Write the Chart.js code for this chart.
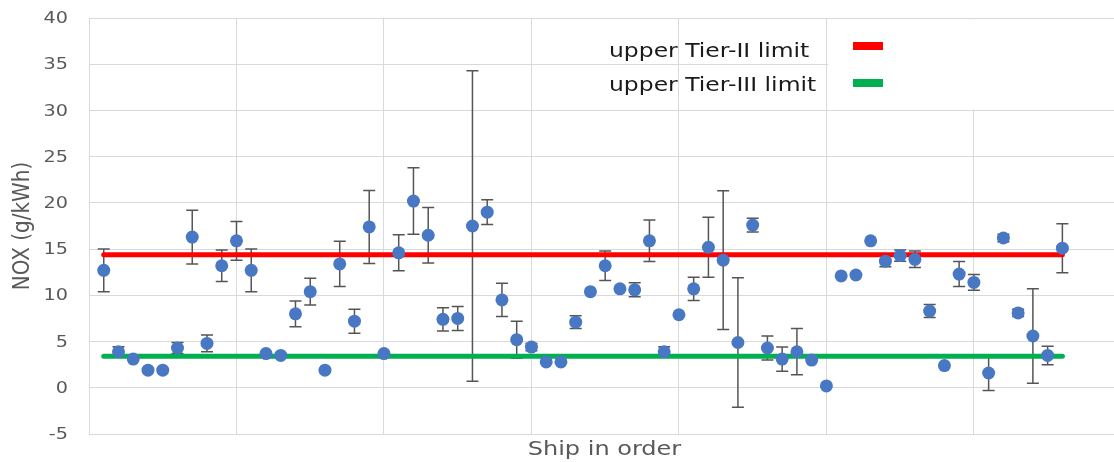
<!DOCTYPE html>
<html><head><meta charset="utf-8">
<script src="https://cdn.jsdelivr.net/npm/chart.js@4"></script>
<style>html,body{margin:0;padding:0;background:#fff}canvas{display:block}</style>
</head><body>
<canvas id="c" width="1114" height="462"></canvas>
<script>
// ---- data ----
const ships = [1,2,3,4,5,6,7,8,9,10,11,12,13,14,15,16,17,18,19,20,21,22,23,24,25,26,27,28,29,30,31,32,33,34,35,36,37,38,39,40,41,42,43,44,45,46,47,48,49,50,51,52,53,54,55,56,57,58,59,60,61,62,63,64,65,66];
const nox = [12.7,3.9,3.1,1.9,1.9,4.3,16.3,4.8,13.2,15.9,
             12.7,3.7,3.5,8.0,10.4,1.9,13.4,7.2,17.4,3.7,
             14.6,20.2,16.5,7.4,7.5,17.5,19.0,9.5,5.2,4.4,
             2.8,2.8,7.1,10.4,13.2,10.7,10.6,15.9,3.9,7.9,
             10.7,15.2,13.8,4.9,17.6,4.3,3.1,3.9,3.0,0.2,
             12.1,12.2,15.9,13.7,14.3,13.9,8.3,2.4,12.3,11.4,
             1.6,16.2,8.1,5.6,3.5,15.1];
const noxErr = [2.3,0.55,0,0,0,0.6,2.9,0.9,1.7,2.1,
                2.3,0,0,1.4,1.45,0,2.45,1.3,3.95,0,
                1.95,3.6,3.0,1.25,1.3,16.8,1.35,1.8,2.0,0.4,
                0,0,0.7,0,1.6,0,0.75,2.25,0.55,0,
                1.25,3.25,7.5,7.0,0.75,1.3,1.3,2.5,0,0,
                0,0,0,0.6,0.6,0.9,0.7,0,1.35,0.85,
                1.9,0.4,0.4,5.1,1.0,2.65];
const tierIILimit = 14.4;
const tierIIILimit = 3.4;
const yTicks = [-5,0,5,10,15,20,25,30,35,40];
const xGridStep = 10;
const legendLabels = ['upper Tier-II limit','upper Tier-III limit'];
const axisTitles = {x:'Ship in order', y:'NOX (g/kWh)'};

const RED = '#ff0000', GREEN = '#00b050', BLUE = '#4878c4', GRID = '#d9d9d9', TXT = '#595959';

const custom = {
  id: 'custom',
  beforeDatasetsDraw(chart) {
    const {ctx, chartArea: a, scales: {x, y}} = chart;
    ctx.save();
    // legend background box (covers gridlines like the original)
    ctx.fillStyle = '#fff';
    ctx.fillRect(828, a.top + 1.5, a.right - 828, y.getPixelForValue(30) - a.top - 2.5);
    // error bars
    ctx.strokeStyle = '#555555';
    ctx.lineWidth = 1.5;
    ships.forEach((s, i) => {
      const e = noxErr[i];
      if (!e) return;
      const px = x.getPixelForValue(s);
      const t = y.getPixelForValue(nox[i] + e);
      const b = y.getPixelForValue(nox[i] - e);
      ctx.beginPath();
      ctx.moveTo(px, t); ctx.lineTo(px, b);
      ctx.moveTo(px - 6, t); ctx.lineTo(px + 6, t);
      ctx.moveTo(px - 6, b); ctx.lineTo(px + 6, b);
      ctx.stroke();
    });
    ctx.restore();
  },
  afterDraw(chart) {
    const {ctx, chartArea: a, scales: {x, y}} = chart;
    ctx.save();
    // y tick labels
    ctx.fillStyle = TXT;
    ctx.font = '16px "DejaVu Sans"';
    ctx.textAlign = 'right';
    ctx.textBaseline = 'middle';
    yTicks.forEach(v => {
      ctx.save();
      ctx.translate(a.left - 21, y.getPixelForValue(v) + 1);
      ctx.scale(1.2, 1);
      ctx.fillText(String(v), 0, 0);
      ctx.restore();
    });
    // axis titles
    ctx.font = '20px "DejaVu Sans"';
    ctx.textAlign = 'center';
    ctx.save();
    ctx.translate((a.left + a.right) / 2 + 3, 450);
    ctx.scale(1.2, 1);
    ctx.fillText(axisTitles.x, 0, 0);
    ctx.restore();
    ctx.save();
    ctx.translate(23, (a.top + a.bottom) / 2);
    ctx.scale(1.15, 1);
    ctx.rotate(-Math.PI / 2);
    ctx.fillText(axisTitles.y, 0, 0);
    ctx.restore();
    // legend
    ctx.font = '19px "DejaVu Sans"';
    ctx.textAlign = 'left';
    ctx.textBaseline = 'alphabetic';
    ctx.fillStyle = '#1a1a1a';
    const rows = [{y: 57, c: RED, sy: 42}, {y: 91, c: GREEN, sy: 79}];
    legendLabels.forEach((lab, i) => {
      ctx.save();
      ctx.translate(609, rows[i].y);
      ctx.scale(1.235, 1);
      ctx.fillText(lab, 0, 0);
      ctx.restore();
      ctx.fillStyle = rows[i].c;
      ctx.fillRect(853, rows[i].sy, 30, 8);
      ctx.fillStyle = '#1a1a1a';
    });
    ctx.restore();
  }
};

const limitLine = (val, color) => ({
  data: [{x: ships[0], y: val}, {x: ships[ships.length - 1], y: val}],
  showLine: true,
  borderColor: color,
  backgroundColor: color,
  borderWidth: 5,
  borderCapStyle: 'round',
  pointRadius: 0,
  order: 1
});

new Chart(document.getElementById('c'), {
  type: 'scatter',
  data: {
    datasets: [
      {
        data: ships.map((s, i) => ({x: s, y: nox[i]})),
        backgroundColor: BLUE,
        borderWidth: 0,
        pointRadius: 6.5,
        order: 0
      },
      limitLine(tierIILimit, RED),
      limitLine(tierIIILimit, GREEN)
    ]
  },
  options: {
    responsive: false,
    animation: false,
    devicePixelRatio: 1,
    layout: {autoPadding: false, padding: {top: 18, right: 0, bottom: 0, left: 0}},
    plugins: {legend: {display: false}, tooltip: {enabled: false}},
    scales: {
      x: {
        type: 'linear', min: 0, max: 69.5,
        ticks: {display: false, stepSize: xGridStep},
        afterBuildTicks: s => { s.ticks = s.ticks.filter(t => t.value % xGridStep === 0); },
        afterFit: s => { s.height = 28; },
        grid: {color: GRID, drawTicks: false},
        border: {color: GRID}
      },
      y: {
        min: -5, max: 40,
        ticks: {display: false, stepSize: 5},
        afterFit: s => { s.width = 89; },
        grid: {color: GRID, drawTicks: false},
        border: {color: GRID}
      }
    }
  },
  plugins: [custom]
});
</script>
</body></html>
